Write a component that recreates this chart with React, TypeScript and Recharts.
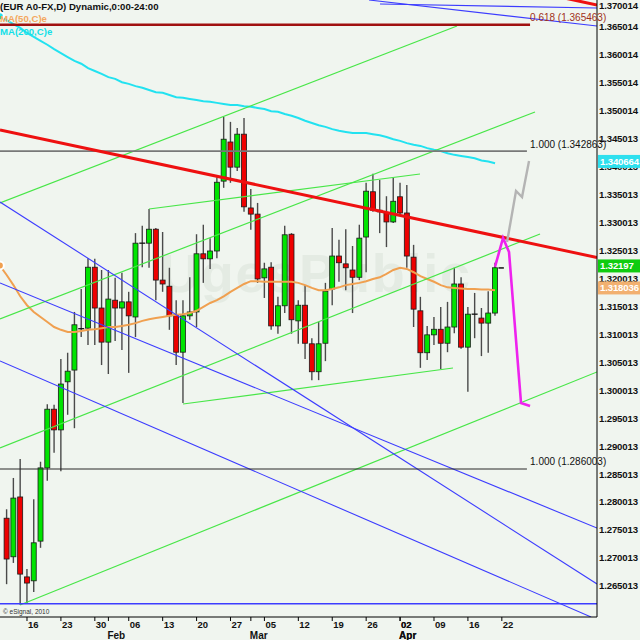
import React from 'react';
import { ComposedChart, Bar, Line, XAxis, YAxis, ReferenceLine, ReferenceDot } from 'recharts';

// daily EUR/USD sessions, 2012
const dates = [
  'Jan 11', 'Jan 12', 'Jan 13', 'Jan 16', 'Jan 17', 'Jan 18', 'Jan 19', 'Jan 20', 'Jan 23', 'Jan 24',
  'Jan 25', 'Jan 26', 'Jan 27', 'Jan 30', 'Jan 31', 'Feb 01', 'Feb 02', 'Feb 03', 'Feb 06', 'Feb 07',
  'Feb 08', 'Feb 09', 'Feb 10', 'Feb 13', 'Feb 14', 'Feb 15', 'Feb 16', 'Feb 17', 'Feb 20', 'Feb 21',
  'Feb 22', 'Feb 23', 'Feb 24', 'Feb 27', 'Feb 28', 'Feb 29', 'Mar 01', 'Mar 02', 'Mar 05', 'Mar 06',
  'Mar 07', 'Mar 08', 'Mar 09', 'Mar 12', 'Mar 13', 'Mar 14', 'Mar 15', 'Mar 16', 'Mar 19', 'Mar 20',
  'Mar 21', 'Mar 22', 'Mar 23', 'Mar 26', 'Mar 27', 'Mar 28', 'Mar 29', 'Mar 30', 'Apr 02', 'Apr 03',
  'Apr 04', 'Apr 05', 'Apr 06', 'Apr 09', 'Apr 10', 'Apr 11', 'Apr 12', 'Apr 13', 'Apr 16', 'Apr 17',
  'Apr 18', 'Apr 19', 'Apr 20',
];
const opens = [
  1.2772, 1.2703, 1.2810, 1.2667, 1.2660, 1.2731, 1.2862, 1.2967, 1.2930, 1.3016,
  1.3037, 1.3111, 1.3112, 1.3221, 1.3148, 1.3087, 1.3162, 1.3148, 1.3159, 1.3132,
  1.3264, 1.3264, 1.3289, 1.3198, 1.3187, 1.3136, 1.3069, 1.3134, 1.3141, 1.3245,
  1.3236, 1.3250, 1.3375, 1.3445, 1.3400, 1.3459, 1.3327, 1.3316, 1.3202, 1.3221,
  1.3116, 1.3152, 1.3280, 1.3125, 1.3153, 1.3084, 1.3034, 1.3085, 1.3182, 1.3241,
  1.3227, 1.3216, 1.3203, 1.3275, 1.3356, 1.3323, 1.3318, 1.3302, 1.3347, 1.3318,
  1.3239, 1.3143, 1.3068, 1.3100, 1.3110, 1.3085, 1.3114, 1.3191, 1.3078, 1.3137,
  1.3130, 1.3121, 1.3139,
];
const highs = [
  1.2788, 1.2844, 1.2878, 1.2681, 1.2806, 1.2873, 1.2976, 1.2975, 1.3057, 1.3068,
  1.3141, 1.3182, 1.3237, 1.3236, 1.3216, 1.3216, 1.3202, 1.3211, 1.3177, 1.3282,
  1.3295, 1.3325, 1.3291, 1.3284, 1.3220, 1.3162, 1.3162, 1.3203, 1.3280, 1.3297,
  1.3273, 1.3382, 1.3490, 1.3481, 1.3470, 1.3488, 1.3361, 1.3336, 1.3229, 1.3230,
  1.3168, 1.3295, 1.3282, 1.3162, 1.3189, 1.3094, 1.3123, 1.3193, 1.3291, 1.3270,
  1.3289, 1.3259, 1.3297, 1.3372, 1.3388, 1.3377, 1.3348, 1.3381, 1.3372, 1.3368,
  1.3261, 1.3168, 1.3116, 1.3132, 1.3150, 1.3159, 1.3220, 1.3203, 1.3150, 1.3175,
  1.3148, 1.3178, 1.3229,
];
const lows = [
  1.2654, 1.2692, 1.2617, 1.2620, 1.2640, 1.2719, 1.2839, 1.2889, 1.2856, 1.2957,
  1.2933, 1.3096, 1.3082, 1.3082, 1.3046, 1.3030, 1.3089, 1.3073, 1.3032, 1.3096,
  1.3221, 1.3220, 1.3162, 1.3177, 1.3109, 1.3046, 1.2978, 1.3127, 1.3114, 1.3193,
  1.3218, 1.3237, 1.3363, 1.3372, 1.3393, 1.3320, 1.3288, 1.3193, 1.3166, 1.3109,
  1.3102, 1.3139, 1.3102, 1.3084, 1.3057, 1.3019, 1.3019, 1.3053, 1.3153, 1.3195,
  1.3180, 1.3139, 1.3198, 1.3212, 1.3320, 1.3282, 1.3257, 1.3300, 1.3314, 1.3220,
  1.3114, 1.3041, 1.3055, 1.3082, 1.3039, 1.3069, 1.3103, 1.3075, 1.2998, 1.3094,
  1.3062, 1.3068, 1.3134,
];
const closes = [
  1.2699, 1.2808, 1.2672, 1.2656, 1.2728, 1.2862, 1.2967, 1.2930, 1.3012, 1.3035,
  1.3118, 1.3111, 1.3221, 1.3148, 1.3087, 1.3164, 1.3148, 1.3159, 1.3134, 1.3264,
  1.3264, 1.3289, 1.3198, 1.3191, 1.3134, 1.3069, 1.3134, 1.3141, 1.3245, 1.3236,
  1.3250, 1.3373, 1.3450, 1.3400, 1.3459, 1.3329, 1.3316, 1.3200, 1.3218, 1.3116,
  1.3152, 1.3279, 1.3127, 1.3153, 1.3085, 1.3034, 1.3084, 1.3178, 1.3241, 1.3229,
  1.3220, 1.3203, 1.3273, 1.3357, 1.3323, 1.3320, 1.3302, 1.3339, 1.3318, 1.3241,
  1.3146, 1.3068, 1.3100, 1.3110, 1.3085, 1.3114, 1.3191, 1.3078, 1.3137, 1.3137,
  1.3121, 1.3139, 1.3220,
];
// moving averages start one session before dates[0]
const ma50 = [
  1.3224,
  1.3207, 1.3189, 1.3169, 1.3153, 1.3141, 1.3132, 1.3123, 1.3114, 1.3109, 1.3105,
  1.3105, 1.3107, 1.3109, 1.3110, 1.3112, 1.3114, 1.3114, 1.3116, 1.3118, 1.3121,
  1.3125, 1.3128, 1.3130, 1.3132, 1.3134, 1.3136, 1.3137, 1.3139, 1.3143, 1.3150,
  1.3157, 1.3162, 1.3169, 1.3177, 1.3184, 1.3191, 1.3196, 1.3196, 1.3195, 1.3195,
  1.3195, 1.3195, 1.3195, 1.3193, 1.3189, 1.3184, 1.3180, 1.3180, 1.3182, 1.3185,
  1.3189, 1.3191, 1.3193, 1.3196, 1.3200, 1.3203, 1.3209, 1.3216, 1.3220, 1.3218,
  1.3212, 1.3205, 1.3200, 1.3195, 1.3189, 1.3185, 1.3184, 1.3183, 1.3182, 1.3182,
  1.3181, 1.3181, 1.3180,
];
const ma200 = [
  1.3670,
  1.3663, 1.3656, 1.3649, 1.3640, 1.3633, 1.3626, 1.3619, 1.3611, 1.3604, 1.3597,
  1.3590, 1.3585, 1.3577, 1.3572, 1.3567, 1.3561, 1.3558, 1.3552, 1.3549, 1.3545,
  1.3542, 1.3538, 1.3534, 1.3533, 1.3529, 1.3525, 1.3524, 1.3522, 1.3520, 1.3518,
  1.3517, 1.3515, 1.3513, 1.3511, 1.3511, 1.3509, 1.3508, 1.3506, 1.3504, 1.3500,
  1.3499, 1.3495, 1.3492, 1.3488, 1.3483, 1.3479, 1.3475, 1.3472, 1.3468, 1.3465,
  1.3463, 1.3461, 1.3461, 1.3461, 1.3459, 1.3457, 1.3454, 1.3450, 1.3447, 1.3443,
  1.3440, 1.3438, 1.3434, 1.3431, 1.3429, 1.3425, 1.3422, 1.3420, 1.3418, 1.3416,
  1.3412, 1.3410, 1.3407,
];

const yTickLabels = [
  '1.265013', '1.270013', '1.275013', '1.280013', '1.285013', '1.290013', '1.295013', '1.300013',
  '1.305013', '1.310013', '1.315013', '1.320013', '1.325013', '1.330013', '1.335013', '1.340013',
  '1.345013', '1.350014', '1.355014', '1.360014', '1.365014', '1.370014',
];
const dayTickIdx = [3, 8, 13, 18, 23, 28, 33, 38, 43, 48, 53, 58, 63, 68, 73];
const dayTickLabels = ['16', '23', '30', '06', '13', '20', '27', '05', '12', '19', '26', '02', '09', '16', '22'];
const monthTickIdx = [15, 36, 58];
const monthTickLabels = ['Feb', 'Mar', 'Apr'];

// drawing tools: [bar index, price, bar index, price]
const fibPrices = [1.365463, 1.342863, 1.286003];
const fibRatios = ['0.618', '1.000', '1.000'];
const redLines = [
  [-0.98, 1.34665, 87.03, 1.32384],
  [81.58, 1.37042, 87.03, 1.36901],
];
const blueLines = [
  [-0.98, 1.33377, 87.03, 1.26543],
  [-0.98, 1.31928, 87.03, 1.27545],
  [-0.98, 1.30532, 86.15, 1.25953],
  [53.42, 1.3699, 87.03, 1.36525],
  [55.04, 1.36919, 87.03, 1.36847],
  [-0.98, 1.2619, 87.03, 1.2619],
];
const greenLines = [
  [-0.98, 1.33359, 66.39, 1.36525],
  [-0.98, 1.31284, 77.89, 1.34987],
  [-0.98, 1.28976, 78.63, 1.32804],
  [1.97, 1.26167, 87.03, 1.30336],
  [20.99, 1.33251, 60.94, 1.33878],
  [26.0, 1.29763, 65.8, 1.30407],
];
const grayPathIdx = [73.77, 75.09, 75.98, 77.01];
const grayPathPrice = [1.32661, 1.33573, 1.33466, 1.3411];
const pinkPathIdx = [72.0, 73.18, 74.06, 75.83, 77.16];
const pinkPathPrice = [1.3222, 1.32733, 1.32482, 1.29781, 1.29727];
const flagValues = [1.340664, 1.32197, 1.318036];
const flagLabels = ['1.340664', '1.32197', '1.318036'];
const flagColors = ['#2ee0ee', '#10cc10', '#f2b070'];

const X_MIN = -0.98;
const X_MAX = 87.03;
const Y_MIN = 1.259527;
const Y_MAX = 1.372406;
const FONT = '"Liberation Sans", Arial, sans-serif';
const FIB_LABEL_IDX = 77.16;
const PLOT_RIGHT = 597;

const candles = dates.map((d, k) => ({ i: k, date: d, o: opens[k], h: highs[k], l: lows[k], c: closes[k] }));
const maRows = ma50.map((m, k) => ({ i: k - 1, ma50: m, ma200: ma200[k] }));
const grayPath = grayPathIdx.map((i, k) => ({ i, v: grayPathPrice[k] }));
const pinkPath = pinkPathIdx.map((i, k) => ({ i, v: pinkPathPrice[k] }));
const xTicks = [...dayTickIdx, ...monthTickIdx].sort((a, b) => a - b);
const yTicks = yTickLabels.map(Number);

const Candle = (props: any) => {
  const { x, width, payload } = props;
  let { y, height } = props;
  const p = payload || props;
  if (!p || p.h == null) return null;
  if (height < 0) { y += height; height = -height; }
  const k = p.h - p.l > 0 ? height / (p.h - p.l) : 0;
  const cx = x + width / 2;
  const yo = y + (p.h - p.o) * k;
  const yc = y + (p.h - p.c) * k;
  const up = p.c > p.o;
  return (
    <g>
      <line x1={cx} x2={cx} y1={y} y2={y + height} stroke="#4a4a4a" strokeWidth={1.4} />
      {p.c === p.o ? (
        <line x1={cx - 3} x2={cx + 3} y1={yo} y2={yo} stroke="#111" strokeWidth={1.3} />
      ) : (
        <rect x={cx - 2.5} y={Math.min(yo, yc)} width={5} height={Math.max(Math.abs(yo - yc), 1)}
          fill={up ? '#00e400' : '#ee0000'} stroke="#1a1a1a" strokeWidth={0.8} />
      )}
    </g>
  );
};

const XTick = (props: any) => {
  const { x, y, payload } = props;
  const d = dayTickIdx.indexOf(payload.value);
  const m = monthTickIdx.indexOf(payload.value);
  return (
    <g>
      <line x1={x} x2={x} y1={y} y2={y + 4} stroke="#000" strokeWidth={1} />
      {d >= 0 && (
        <text x={x + 1} y={y + 11} fontSize={9.5} fontWeight="bold" fontFamily={FONT} fill="#111">
          {dayTickLabels[d]}
        </text>
      )}
      {m >= 0 && (
        <text x={x - 1} y={y + 22} fontSize={10} fontWeight="bold" fontFamily={FONT} fill="#111">
          {monthTickLabels[m]}
        </text>
      )}
    </g>
  );
};

const YTick = (props: any) => {
  const { y, payload } = props;
  return (
    <text x={PLOT_RIGHT + 2} y={Math.max(y + 3, 23)} fontSize={9.6} fontWeight="bold" fontFamily={FONT} fill="#111" letterSpacing={-0.15}>
      {Number(payload.value).toFixed(6)}
    </text>
  );
};

const FlagTick = (props: any) => {
  const { y, index } = props;
  return (
    <g>
      <rect x={PLOT_RIGHT + 1} y={y - 8.5} width={43} height={13} fill={flagColors[index]} />
      <text x={PLOT_RIGHT + 3} y={y + 1.5} fontSize={9.6} fontWeight="bold" fontFamily={FONT} fill="#fff" letterSpacing={-0.15}>
        {flagLabels[index]}
      </text>
    </g>
  );
};

const fibText = (text: string, color: string) => (p: any) => (
  <text x={p.cx} y={p.cy - 3.5} fontSize={10} fontFamily={FONT} fill={color}>{text}</text>
);

const seg = (s: number[]) => [{ x: s[0], y: s[1] }, { x: s[2], y: s[3] }];

export default function App() {
  return (
    <div style={{ position: 'fixed', left: 0, top: 0, width: 640, height: 640, overflow: 'hidden', background: '#f0f5ef' }}>
      <svg width={640} height={640} style={{ position: 'absolute', left: 0, top: 0 }}>
        <text x={160} y={292} fontSize={54} fontWeight="bold" fontFamily={FONT} fill="#e4ebe3" textLength={310}>
          UgesPublic
        </text>
      </svg>
      <div style={{ position: 'absolute', left: 0, top: -14 }}>
        <ComposedChart width={640} height={654} data={candles} margin={{ top: 0, right: 0, bottom: 0, left: 0 }}>
          <XAxis dataKey="i" type="number" domain={[X_MIN, X_MAX]} allowDataOverflow ticks={xTicks} interval={0}
            tick={(p: any) => <XTick {...p} />} tickLine={false} tickSize={0} tickMargin={0} height={23}
            axisLine={{ stroke: '#000' }} />
          <YAxis orientation="right" type="number" domain={[Y_MIN, Y_MAX]} allowDataOverflow ticks={yTicks} interval={0}
            tick={(p: any) => <YTick {...p} />} tickLine={false} tickSize={0} tickMargin={0} width={41}
            axisLine={{ stroke: '#000' }} />
          <YAxis yAxisId="flags" orientation="right" type="number" domain={[Y_MIN, Y_MAX]} allowDataOverflow
            ticks={flagValues} interval={0} tick={(p: any) => <FlagTick {...p} />} tickLine={false} tickSize={0}
            tickMargin={0} width={2} axisLine={false} />
          <Bar dataKey={(d: any) => [d.l, d.h]} barSize={6} shape={(p: any) => <Candle {...p} />} isAnimationActive={false} />
          <Line data={maRows} dataKey="ma50" type="linear" dot={false} stroke="#f0a050" strokeWidth={2} isAnimationActive={false} />
          <Line data={maRows} dataKey="ma200" type="linear" dot={false} stroke="#22e2f0" strokeWidth={2} isAnimationActive={false} />
          {greenLines.map((s, k) => (
            <ReferenceLine key={'g' + k} segment={seg(s)} stroke="#48e648" strokeWidth={1.2} ifOverflow="hidden" />
          ))}
          {blueLines.map((s, k) => (
            <ReferenceLine key={'b' + k} segment={seg(s)} stroke="#3c3cff" strokeWidth={k === 5 ? 1.6 : 1.1} ifOverflow="hidden" />
          ))}
          <ReferenceLine segment={[{ x: X_MIN, y: fibPrices[0] }, { x: FIB_LABEL_IDX, y: fibPrices[0] }]} stroke="#a01010" strokeWidth={2.6} ifOverflow="hidden" />
          <ReferenceLine segment={[{ x: X_MIN, y: fibPrices[1] }, { x: 76.7, y: fibPrices[1] }]} stroke="#787878" strokeWidth={1.8} ifOverflow="hidden" />
          <ReferenceLine segment={[{ x: X_MIN, y: fibPrices[2] }, { x: 76.7, y: fibPrices[2] }]} stroke="#2a2a2a" strokeWidth={1.2} ifOverflow="hidden" />
          {redLines.map((s, k) => (
            <ReferenceLine key={'r' + k} segment={seg(s)} stroke="#ee1010" strokeWidth={3} ifOverflow="hidden" />
          ))}
          <Line data={grayPath} dataKey="v" type="linear" dot={false} stroke="#b4b4b4" strokeWidth={2.4} isAnimationActive={false} />
          <Line data={pinkPath} dataKey="v" type="linear" dot={false} stroke="#ee22ee" strokeWidth={2.6} isAnimationActive={false} />
          <ReferenceLine segment={[{ x: 72.5, y: flagValues[1] }, { x: 73.3, y: flagValues[1] }]} stroke="#111" strokeWidth={1.5} ifOverflow="hidden" />
          <ReferenceDot x={FIB_LABEL_IDX} y={fibPrices[0]} r={0} ifOverflow="hidden"
            shape={fibText(`${fibRatios[0]} (${fibPrices[0].toFixed(6)})`, '#a0301a')} />
          <ReferenceDot x={FIB_LABEL_IDX} y={fibPrices[1]} r={0} ifOverflow="hidden"
            shape={fibText(`${fibRatios[1]} (${fibPrices[1].toFixed(6)})`, '#111')} />
          <ReferenceDot x={FIB_LABEL_IDX} y={fibPrices[2]} r={0} ifOverflow="hidden"
            shape={fibText(`${fibRatios[2]} (${fibPrices[2].toFixed(6)})`, '#111')} />
        </ComposedChart>
      </div>
      <svg width={640} height={640} style={{ position: 'absolute', left: 0, top: 0, pointerEvents: 'none' }}>
        <text x={0} y={10} fontSize={9.6} fontWeight="bold" fontFamily={FONT} fill="#111">(EUR A0-FX,D) Dynamic,0:00-24:00</text>
        <text x={0} y={22} fontSize={9.6} fontWeight="bold" fontFamily={FONT} fill="#f4a860">MA(50,C)e</text>
        <text x={0} y={35} fontSize={9.6} fontWeight="bold" fontFamily={FONT} fill="#12e0e8">MA(200,C)e</text>
        <text x={3} y={614} fontSize={6.5} fontFamily={FONT} fill="#333">© eSignal, 2010</text>
      </svg>
    </div>
  );
}
